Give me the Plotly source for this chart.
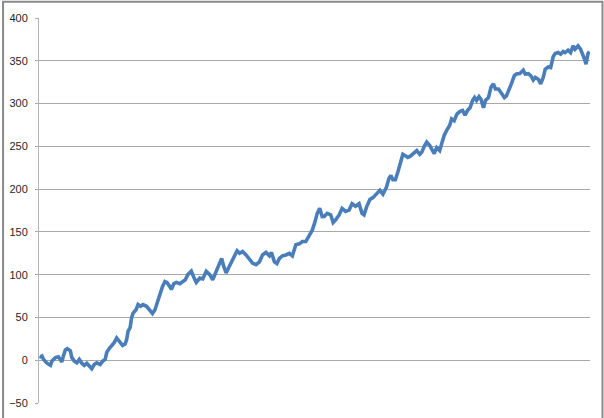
import plotly.graph_objects as go

# time step and series value
steps = [0, 2, 5, 8, 15, 22, 25, 32, 38, 42, 45, 48, 52, 56, 62, 65, 70, 75, 80, 85,
         90, 95, 100, 105, 110, 115, 122, 127, 132, 135, 140, 145, 150, 155, 158, 162, 167, 172, 175, 178,
         182, 185, 188, 194, 198, 203, 208, 215, 222, 227, 232, 236, 242, 247, 252, 256, 262, 265, 270, 275,
         282, 288, 293, 298, 305, 310, 315, 322, 328, 335, 342, 348, 355, 362, 366, 370, 375, 380, 385, 392,
         397, 402, 408, 415, 422, 428, 435, 442, 448, 455, 462, 466, 472, 477, 482, 488, 495, 502, 508, 515,
         522, 528, 535, 542, 548, 553, 558, 563, 568, 572, 578, 585, 590, 595, 602, 608, 615, 622, 628, 635,
         642, 648, 652, 657, 664, 670, 677, 684, 690, 697, 702, 706, 710, 715, 720, 725, 730, 735, 740, 745,
         752, 758, 764, 768, 773, 778, 784, 788, 793, 798, 804, 808, 813, 818, 824, 828, 833, 839, 845, 850,
         855, 860, 865, 870, 874, 878, 883, 887, 892, 896, 902, 907, 912, 916, 922, 927, 934, 938, 943, 948,
         954, 958, 965, 972, 976, 982, 987, 992, 996, 1002, 1007, 1012, 1016, 1022, 1027, 1032, 1036, 1042, 1047, 1052,
         1056, 1062, 1067, 1072, 1076, 1082, 1087, 1092, 1095, 1098, 1102, 1105]

values = [4.5, 4, 5, 1, -3.5, -6, -1, 3, 4, 1, -2, 5, 12, 13.6, 11, 3, -1, -3, 1, -3.5,
          -6, -3.5, -7, -10, -5, -3, -5, -1, 1, 9, 13.6, 16.6, 20.5, 26, 24, 20, 17.4, 19, 24, 34,
          38, 49.6, 55, 59, 65, 63, 65, 63, 59, 54.7, 59, 67, 77, 86, 92, 91, 86, 82.6, 89.5, 91,
          89.5, 92, 94, 100, 104, 97, 91, 96, 95, 104, 100, 94, 104, 113.6, 119, 110, 102, 108, 113.6, 121,
          128, 125, 127, 123, 117, 113.6, 111.6, 115, 123, 126, 122, 126, 115, 113, 119, 122, 123, 125, 122, 135,
          136, 138.7, 138.7, 146.5, 152, 160.8, 171.7, 177.5, 167.8, 168, 171.7, 170, 161, 164, 169.8, 177.5, 174, 175.5, 183, 180,
          183, 171.7, 170, 179, 188, 190, 195, 198.6, 194, 202, 212.4, 216, 211, 211, 220, 230, 240.7, 239, 237, 238.5,
          241.5, 245, 240.7, 243, 250, 255, 251, 246, 241.5, 248.5, 245, 253, 262.8, 268.6, 274.4, 282, 280, 288, 291, 292,
          286.5, 292, 295, 303.5, 307, 303.5, 308, 305, 295, 303.5, 307, 319, 323, 317, 317, 313, 307, 309, 315, 323,
          332.6, 334.5, 335, 339, 334.5, 335, 332.6, 327.5, 330.6, 328.5, 323, 330.6, 340, 342.7, 342, 354.7, 358.5, 359.6, 357.7, 360.8,
          359.6, 362.4, 359.6, 367.4, 363.5, 367.4, 363.5, 357.7, 352, 346, 358.5, 360.8]

y_ticks = [-50, 0, 50, 100, 150, 200, 250, 300, 350, 400]

W, H = 604, 418
ML, MR, MT, MB = 38, 14, 18, 9
pw, ph = W - ML - MR, H - MT - MB

fig = go.Figure()
fig.add_trace(go.Scatter(
    x=steps, y=values, mode="lines",
    line=dict(color="#4a7ebb", width=3.6),
    showlegend=False, hoverinfo="skip",
))

fig.update_layout(
    width=W, height=H,
    margin=dict(l=ML, r=MR, t=MT, b=MB, pad=0),
    paper_bgcolor="white", plot_bgcolor="white",
    font=dict(family="Liberation Sans, Arial, sans-serif", size=11, color="#262626"),
    xaxis=dict(
        range=[-1, 1106], showgrid=False, zeroline=False,
        showticklabels=False, showline=False, ticks="",
    ),
    yaxis=dict(
        range=[-50, 400], tickvals=y_ticks,
        showgrid=True, gridcolor="#a8a8a8", gridwidth=1,
        zeroline=False,
        showline=True, linecolor="#b4b4b4", linewidth=1,
        ticks="outside", ticklen=3, tickcolor="#a8a8a8",
        ticklabelstandoff=5,
    ),
)

# outer chart border (bottom edge falls outside the visible page)
fig.add_shape(
    type="rect", xref="paper", yref="paper", layer="above",
    x0=(2 - ML) / pw, x1=(602.5 - ML) / pw,
    y0=-0.2, y1=1 + (MT - 1.5) / ph,
    line=dict(color="#8a8a8a", width=2),
)

fig.write_html(
    "out.html",
    config={"displayModeBar": False, "staticPlot": True},
    post_script="document.body.style.margin='0';document.body.style.overflow='hidden';",
)
